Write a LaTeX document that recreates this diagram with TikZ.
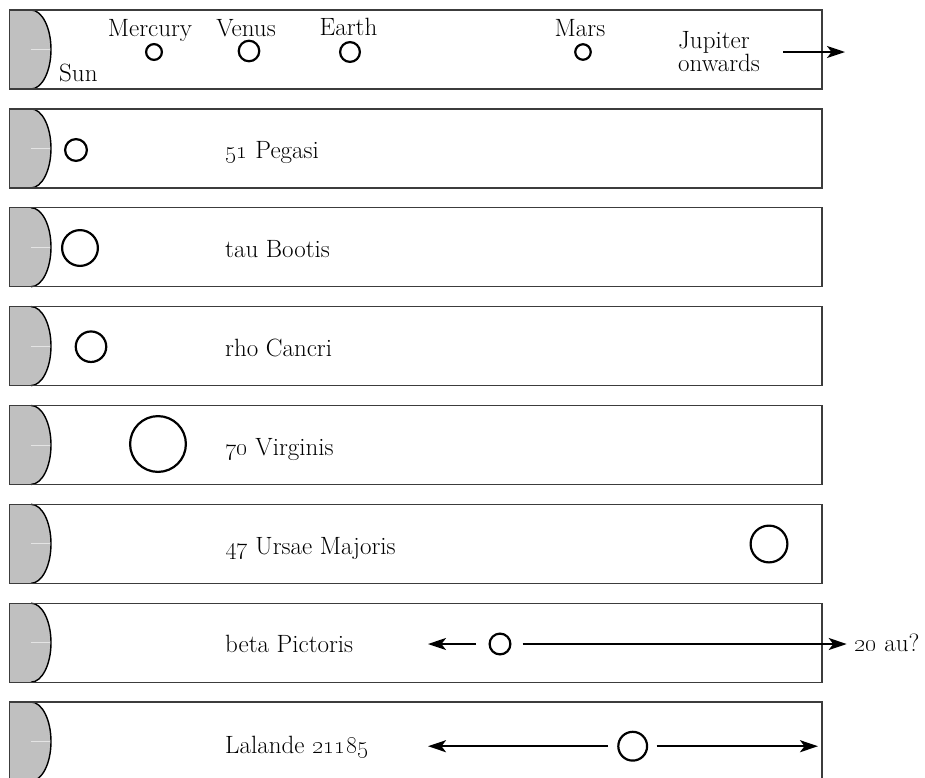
\documentclass[tikz,border=0pt]{standalone}
\usetikzlibrary{arrows.meta}
\definecolor{sungray}{HTML}{C0C0C0}
\definecolor{framegray}{HTML}{3C3C3C}
\definecolor{glint}{HTML}{E4E4E4}
\begin{document}
\begin{tikzpicture}[x=1pt,y=1pt,
  font=\fontsize{25}{27}\selectfont,
  rowframe/.style={draw=framegray, line width=1.3pt},
  sunbody/.style={fill=sungray},
  sunlimb/.style={draw=black, line width=1.4pt},
  sunglint/.style={draw=glint, line width=0.8pt},
  planet/.style={circle, draw=black, line width=2.2pt, inner sep=0pt, outer sep=0pt, minimum size=#1},
  starname/.style={inner sep=0pt, anchor=base west},
  toplabel/.style={inner sep=0pt, anchor=base},
  orbit/.style={draw=black, line width=2pt, -{Stealth[length=18pt, width=12pt, inset=4.5pt]}},
]
\useasboundingbox (0,0) rectangle (925,-777);
\clip (0,0) rectangle (925,-777);

% eight strips, each with the star's limb on the left
\foreach \i in {0,...,7} {
  \pgfmathsetmacro\ytop{-(10+98.86*\i)}
  \pgfmathsetmacro\ybot{\ytop-79}
  \pgfmathsetmacro\ymid{\ytop-39.5}
  \fill[sunbody] (9.5,\ytop) -- (31,\ytop)
    arc[start angle=90, end angle=-90, x radius=20pt, y radius=39.5pt]
    -- (9.5,\ybot) -- cycle;
  \draw[sunglint] (31,\ymid) -- (50,\ymid);
  \draw[sunlimb] (31,\ytop)
    arc[start angle=90, end angle=-90, x radius=20pt, y radius=39.5pt];
  \draw[rowframe] (9.5,\ytop) rectangle (822,\ybot);
}

% Solar System
\node[starname] (sun) at (59,-81) {Sun};
\node[toplabel] (lmercury) at (150,-36) {Mercury};
\node[toplabel] (lvenus) at (246,-36) {Venus};
\node[toplabel] (learth) at (348.5,-35) {Earth};
\node[toplabel] (lmars) at (580,-36) {Mars};
\node[planet=15.8pt] (mercury) at (154,-52) {};
\node[planet=20.5pt] (venus) at (249,-51) {};
\node[planet=19.8pt] (earth) at (350,-52) {};
\node[planet=15.5pt] (mars) at (583,-52) {};
\node[starname, align=left, font=\fontsize{25}{23}\selectfont] (jupiter) at (678,-71) {Jupiter\\onwards};
\coordinate (jupA) at (783,-52);
\coordinate (jupB) at (845,-52);
\draw[orbit] (jupA) -- (jupB);

% 51 Pegasi
\node[starname] (peg) at (225,-158.4) {\oldstylenums{51} Pegasi};
\node[planet=21.8pt] (pegb) at (76,-150) {};

% tau Bootis
\node[starname] (boo) at (225,-257.2) {tau Bootis};
\node[planet=35.8pt] (boob) at (80,-248) {};

% rho Cancri
\node[starname] (cnc) at (225,-356) {rho Cancri};
\node[planet=30.5pt] (cncb) at (91,-346.7) {};

% 70 Virginis
\node[starname] (vir) at (225,-455) {\oldstylenums{70} Virginis};
\node[planet=55.8pt] (virb) at (158,-444) {};

% 47 Ursae Majoris
\node[starname] (uma) at (225,-554) {\oldstylenums{47} Ursae Majoris};
\node[planet=36.8pt] (umab) at (769,-544) {};

% beta Pictoris
\node[starname] (pic) at (225,-652.3) {beta Pictoris};
\node[planet=20.8pt] (picb) at (500,-644) {};
\coordinate (picIn) at (428,-644);
\coordinate (picOut) at (846.7,-644);
\draw[orbit, shorten <=13.6pt] (picb) -- (picIn);
\draw[orbit, shorten <=12.3pt] (picb) -- (picOut);
\node[starname] (picau) at (854,-651.7) {\oldstylenums{20} au?};

% Lalande 21185
\node[starname] (lal) at (225,-753.3) {Lalande \oldstylenums{21185}};
\node[planet=28.8pt] (lalb) at (632.7,-746.2) {};
\coordinate (lalIn) at (428,-746.2);
\coordinate (lalOut) at (818,-746.2);
\draw[orbit, shorten <=10.3pt] (lalb) -- (lalIn);
\draw[orbit, shorten <=9.6pt] (lalb) -- (lalOut);
\end{tikzpicture}
\end{document}
